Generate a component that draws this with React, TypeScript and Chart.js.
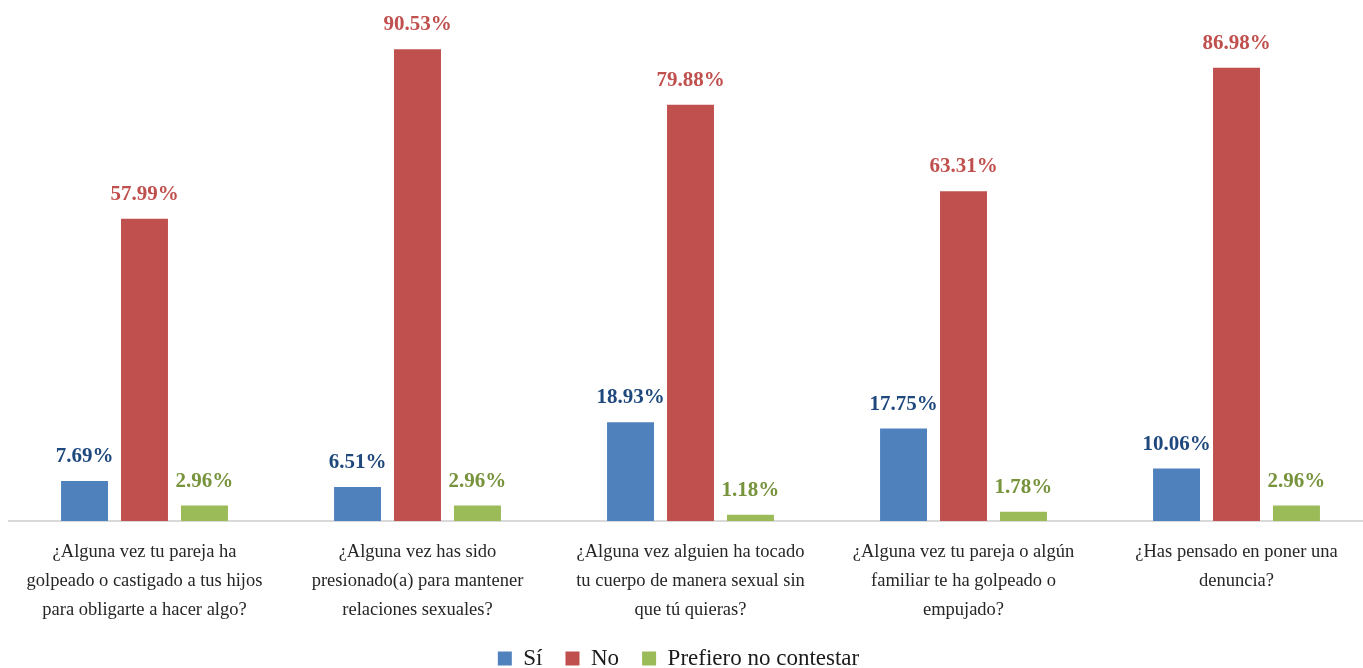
import React, { useEffect, useRef } from "react";
import { Chart, registerables } from "chart.js";

Chart.register(...registerables);

const categories: string[][] = [
  ["¿Alguna vez tu pareja ha", "golpeado o castigado a tus hijos", "para obligarte a hacer algo?"],
  ["¿Alguna vez has sido", "presionado(a) para mantener", "relaciones sexuales?"],
  ["¿Alguna vez alguien ha tocado", "tu cuerpo de manera sexual sin", "que tú quieras?"],
  ["¿Alguna vez tu pareja o algún", "familiar te ha golpeado o", "empujado?"],
  ["¿Has pensado en poner una", "denuncia?"],
];
const seriesNames = ["Sí", "No", "Prefiero no contestar"];
const siValues = [7.69, 6.51, 18.93, 17.75, 10.06];
const noValues = [57.99, 90.53, 79.88, 63.31, 86.98];
const prefieroValues = [2.96, 2.96, 1.18, 1.78, 2.96];

const barColors = ["#4f81bd", "#c0504d", "#9bbb59"];
const labelColors = ["#1f497d", "#c0504d", "#77933c"];
const FONT = "'Liberation Serif', 'DejaVu Serif', serif";

const valueLabels = {
  id: "valueLabels",
  afterDatasetsDraw(chart: any) {
    const ctx = chart.ctx;
    ctx.save();
    ctx.font = `bold 21px ${FONT}`;
    ctx.textAlign = "center";
    ctx.textBaseline = "alphabetic";
    chart.data.datasets.forEach((ds: any, i: number) => {
      const meta = chart.getDatasetMeta(i);
      ctx.fillStyle = labelColors[i];
      meta.data.forEach((bar: any, j: number) => {
        ctx.fillText(ds.data[j].toFixed(2) + "%", bar.x, bar.y - 19);
      });
    });
    ctx.restore();
  },
};

const legendShift = {
  id: "legendShift",
  afterLayout(chart: any) {
    if (chart.legend) {
      chart.legend.left -= 12;
      chart.legend.right -= 12;
    }
  },
};

export default function App() {
  const ref = useRef<HTMLCanvasElement>(null);
  useEffect(() => {
    if (!ref.current) return;
    const chart = new Chart(ref.current, {
      type: "bar",
      data: {
        labels: categories,
        datasets: [siValues, noValues, prefieroValues].map((d, i) => ({
          label: seriesNames[i],
          data: d,
          backgroundColor: barColors[i],
          categoryPercentage: 0.659,
          barPercentage: 0.783,
        })),
      },
      options: {
        responsive: false,
        animation: false,
        layout: { padding: { top: 0, left: 0, right: 0, bottom: -12 } },
        plugins: {
          legend: {
            position: "bottom",
            labels: {
              boxWidth: 14,
              boxHeight: 14,
              padding: 23,
              color: "#1a1a1a",
              font: { family: FONT, size: 23 },
            },
          },
          tooltip: { enabled: false },
        },
        scales: {
          x: {
            grid: { display: false, drawTicks: false },
            border: { display: true, color: "#d9d9d9", width: 2 },
            ticks: {
              color: "#262626",
              font: { family: FONT, size: 18.5, lineHeight: 1.55 },
              padding: 17,
              maxRotation: 0,
              autoSkip: false,
            },
            afterFit(scale: any) {
              scale.height = 103;
            },
          },
          y: { display: false, min: 0, max: 100 },
        },
      },
      plugins: [valueLabels, legendShift],
    });
    return () => chart.destroy();
  }, []);
  return (
    <div style={{ position: "fixed", left: 0, top: 0, width: 1363, height: 668, overflow: "hidden", background: "#fff" }}>
      <canvas ref={ref} width={1365} height={668} style={{ position: "absolute", left: 8, top: 0 }} />
    </div>
  );
}
